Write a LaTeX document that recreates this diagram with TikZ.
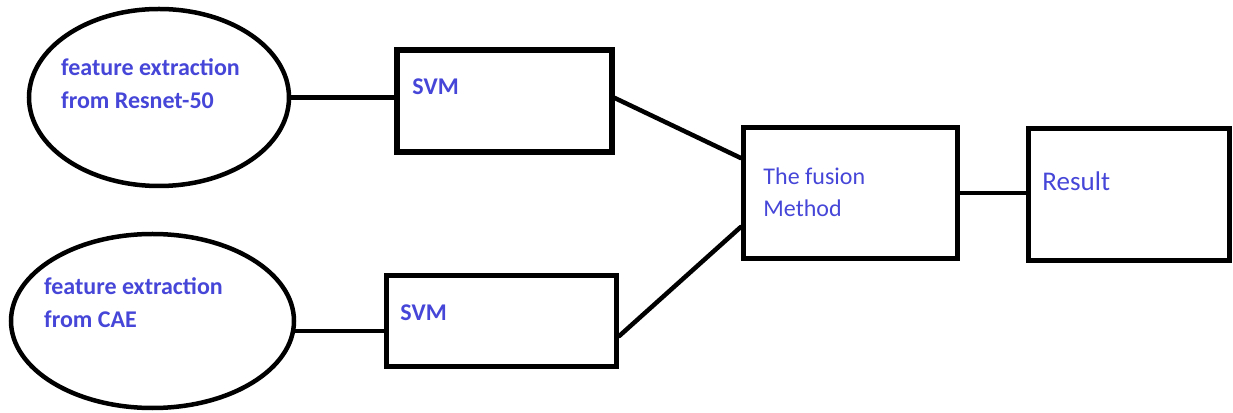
\documentclass[tikz,border=0pt]{standalone}
\usepackage{fontspec}
\setmainfont{Carlito}
\usetikzlibrary{positioning,calc,shapes.geometric}
\definecolor{inkblue}{HTML}{4646D8}

\begin{document}
\begin{tikzpicture}[x=1pt, y=1pt,
  source/.style={ellipse, draw, line width=4.5pt, inner sep=0pt},
  block/.style={rectangle, draw, line width=5.5pt, inner sep=0pt},
  boldtxt/.style={anchor=base west, inner sep=0pt, align=left, text=inkblue, font=\bfseries\fontsize{24}{33}\selectfont},
  plaintxt/.style={anchor=base west, inner sep=0pt, align=left, text=inkblue, font=\fontsize{24}{32}\selectfont},
  link/.style={line width=4.5pt, line cap=round}]
\useasboundingbox (0,0) rectangle (1233,412);

% feature sources
\node[source, minimum width=260pt, minimum height=177pt] (resnet) at (159,314.5) {};
\node[source, minimum width=283pt, minimum height=174pt] (cae) at (152.5,91) {};
% (base anchor of a two-line text sits on its last line)
\node[boldtxt] (resnettxt) at (61,303) {feature extraction\\from Resnet-50};
\node[boldtxt] (caetxt) at (44,84) {feature extraction\\from CAE};

% classifiers
\node[block, minimum width=215pt, minimum height=102pt] (svmtop) at (504.5,311) {};
\node[block, minimum width=230pt, minimum height=91pt] (svmbot) at (501.5,91) {};
\node[boldtxt] (svmtoptxt) at ($(svmtop.north west)+(18,-47)$) {SVM};
\node[boldtxt] (svmbottxt) at ($(svmbot.north west)+(16.5,-47.5)$) {SVM};

% fusion and result
\node[block, minimum width=214pt, minimum height=131pt] (fusion) at (850.5,219) {};
\node[block, minimum width=201pt, minimum height=132pt] (result) at (1129,217.5) {};
\node[plaintxt] (fusiontxt) at ($(fusion.north west)+(22.5,-91.5)$) {The fusion\\Method};
\node[plaintxt, font=\fontsize{27}{32}\selectfont] (resulttxt) at ($(result.north west)+(16.5,-64.5)$) {Result};

\draw[link] (resnet.east) -- (resnet.east -| svmtop.west);
\draw[link] (cae.-4) -- (cae.-4 -| svmbot.west);
\draw[link] ($(svmtop.east)+(0,3)$) -- ($(fusion.west)+(0,35)$);
\draw[link] ($(svmbot.east)+(0,-15)$) -- ($(fusion.west)+(0,-34)$);
\draw[link] (fusion.east) -- (fusion.east -| result.west);
\end{tikzpicture}
\end{document}
